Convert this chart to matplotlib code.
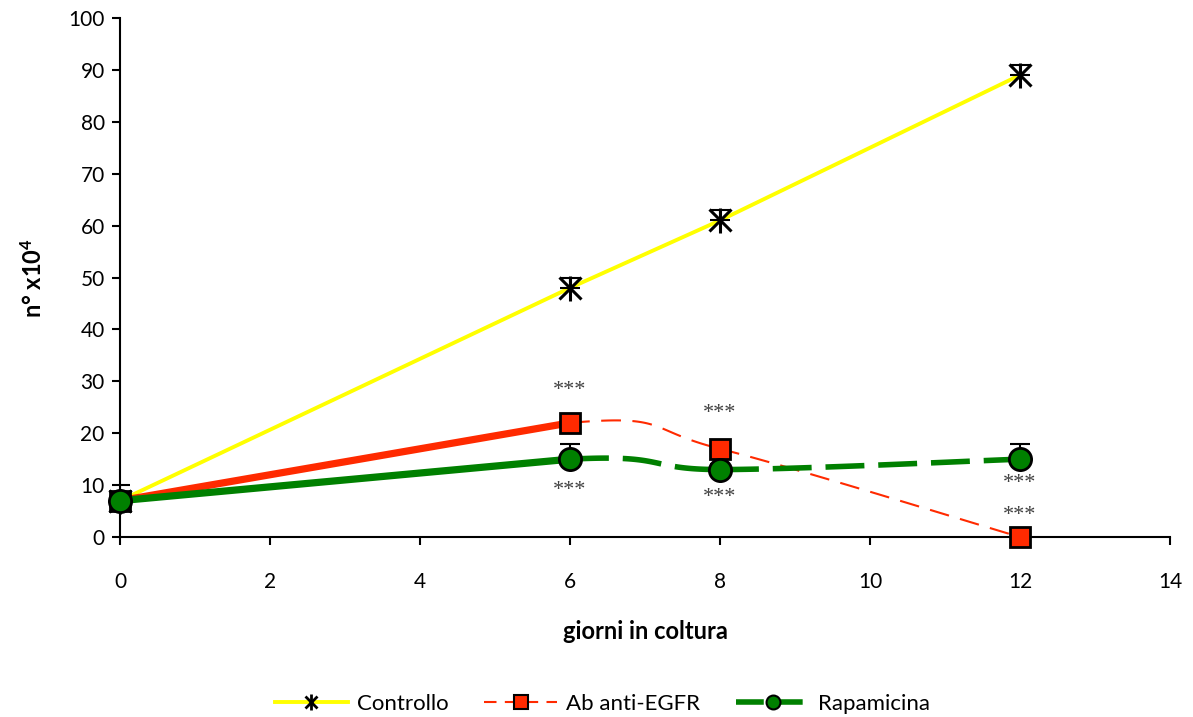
import numpy as np
import matplotlib.pyplot as plt
from matplotlib.lines import Line2D
from matplotlib.legend_handler import HandlerTuple

plt.rcParams['font.family'] = ['Lato', 'DejaVu Sans']
plt.rcParams['mathtext.default'] = 'regular'

# dati
giorni = [0, 6, 8, 12]
controllo = [7, 48, 61, 89]
controllo_err = [0, 2, 2, 2]
egfr = [7, 22, 17, 0]
rapa = [7, 15, 13, 15]
rapa_err = [3, 3, 1, 3]

# asterischi di significatività (x, y)
star_x = [6, 8, 6, 8, 12, 12]
star_y = [28.2, 23.8, 9.0, 7.7, 10.4, 4.2]


def smooth(x, y, n=60):
    # curva morbida tipo Excel (bezier con tangenti catmull-rom)
    p = np.column_stack([x, y]).astype(float)
    pts = np.vstack([p[0], p, p[-1]])
    out = []
    for i in range(1, len(pts) - 2):
        p0, p1, p2, p3 = pts[i - 1], pts[i], pts[i + 1], pts[i + 2]
        c1 = p1 + (p2 - p0) / 6
        c2 = p2 - (p3 - p1) / 6
        t = np.linspace(0, 1, n)[:, None]
        seg = (1 - t) ** 3 * p1 + 3 * (1 - t) ** 2 * t * c1 + 3 * (1 - t) * t ** 2 * c2 + t ** 3 * p2
        out.append(seg)
    return out


fig = plt.figure(figsize=(11.93, 7.17), dpi=100)
ax = fig.add_axes([0.1006, 0.251, 0.8801, 0.7239])

red = '#FF2A00'
green = '#008000'

# Controllo
ax.plot(giorni, controllo, color='#FFFF00', lw=2.8, zorder=2)

# Ab anti-EGFR
segs = smooth(giorni, egfr)
ax.plot(giorni[:2], egfr[:2], color=red, lw=5.2, solid_capstyle='butt', zorder=3)
for s in segs[1:]:
    ax.plot(s[:, 0], s[:, 1], color=red, lw=1.5, dashes=(9.5, 5.5), zorder=3)

# Rapamicina
segs = smooth(giorni, rapa)
ax.plot(giorni[:2], rapa[:2], color=green, lw=5.2, solid_capstyle='butt', zorder=3)
for s in segs[1:]:
    ax.plot(s[:, 0], s[:, 1], color=green, lw=4, dashes=(7, 2.5), zorder=3)

# barre di errore (solo verso l'alto)
ax.errorbar(giorni, controllo, yerr=[[0] * 4, controllo_err], fmt='none', ecolor='black',
            elinewidth=1.5, capsize=7, capthick=1.5, zorder=4)
ax.errorbar(giorni, rapa, yerr=[[0] * 4, rapa_err], fmt='none', ecolor='black',
            elinewidth=1.5, capsize=7, capthick=1.5, zorder=4)

# marker
ax.plot(giorni, controllo, ls='none', marker='x', ms=16, mew=2.2, color='black', zorder=5, clip_on=False)
ax.plot(giorni, controllo, ls='none', marker='|', ms=18, mew=2.2, color='black', zorder=5, clip_on=False)
ax.plot(giorni, egfr, ls='none', marker='s', ms=15, mfc=red, mec='black', mew=2, zorder=6, clip_on=False)
ax.plot(giorni, rapa, ls='none', marker='o', ms=16, mfc=green, mec='black', mew=2, zorder=7, clip_on=False)

for x, y in zip(star_x, star_y):
    ax.text(x, y, '***', ha='center', va='center', fontsize=16, color='#404040',
            family='Liberation Serif', zorder=8)

ax.set_xlim(0, 14)
ax.set_ylim(0, 100)
ax.set_xticks(range(0, 15, 2))
ax.set_yticks(range(0, 101, 10))
ax.spines['top'].set_visible(False)
ax.spines['right'].set_visible(False)
ax.spines['left'].set_linewidth(1.5)
ax.spines['bottom'].set_linewidth(1.5)
ax.tick_params(axis='both', labelsize=15, width=1.5, length=6, direction='out')
ax.tick_params(axis='x', pad=19)
ax.tick_params(axis='y', pad=5)

ax.set_xlabel('giorni in coltura', fontsize=17, fontweight='bold', labelpad=20)
ax.set_ylabel('n° x10$^{4}$', fontsize=17, fontweight='bold', labelpad=16)

# legenda
h_contr = (Line2D([], [], color='#FFFF00', lw=2.8),
           Line2D([], [], ls='none', marker='x', ms=9, mew=2, color='black'),
           Line2D([], [], ls='none', marker='|', ms=11, mew=2, color='black'))
h_egfr = Line2D([], [], color=red, lw=1.5, dashes=(6, 4), marker='s', ms=10,
                mfc=red, mec='black', mew=1.5)
h_rapa = Line2D([], [], color=green, lw=4, dashes=(5, 2), marker='o', ms=10,
                mfc=green, mec='black', mew=1.5)
fig.legend([h_contr, h_egfr, h_rapa], ['Controllo', 'Ab anti-EGFR', 'Rapamicina'],
           handler_map={tuple: HandlerTuple(ndivide=1, pad=0)},
           loc='center', bbox_to_anchor=(0.505, 0.018), ncol=3, frameon=False,
           fontsize=16, handlelength=3.3, columnspacing=1.6, handletextpad=0.4)

fig.savefig('out.png', dpi=100)
